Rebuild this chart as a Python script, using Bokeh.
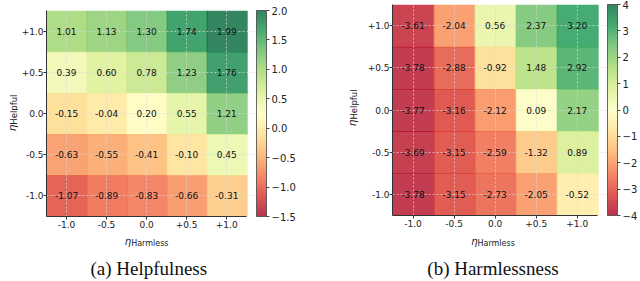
import numpy as np
from bokeh.plotting import figure
from bokeh.models import ColumnDataSource, LinearColorMapper, ColorBar, FixedTicker, Label, Range1d
from bokeh.layouts import row, column
from bokeh.embed import file_html
from bokeh.resources import INLINE
from bokeh.core.properties import value
from bokeh.palettes import RdYlGn11

# ---------------- data ----------------
eta_harmless = [-1.0, -0.5, 0.0, 0.5, 1.0]          # columns (x)
eta_helpful = [1.0, 0.5, 0.0, -0.5, -1.0]           # rows (y), top to bottom
tick_values = [-1.0, -0.5, 0.0, 0.5, 1.0]
tick_text = ["-1.0", "-0.5", "0.0", "+0.5", "+1.0"]

helpfulness = [
    [1.01, 1.13, 1.30, 1.74, 1.99],
    [0.39, 0.60, 0.78, 1.23, 1.76],
    [-0.15, -0.04, 0.20, 0.55, 1.21],
    [-0.63, -0.55, -0.41, -0.10, 0.45],
    [-1.07, -0.89, -0.83, -0.66, -0.31],
]
harmlessness = [
    [-3.61, -2.04, 0.56, 2.37, 3.20],
    [-3.78, -2.88, -0.92, 1.48, 2.92],
    [-3.77, -3.16, -2.12, 0.09, 2.17],
    [-3.69, -3.15, -2.59, -1.32, 0.89],
    [-3.78, -3.15, -2.73, -2.05, -0.52],
]
help_range = (-1.5, 2.0)
help_cticks = [-1.5, -1.0, -0.5, 0.0, 0.5, 1.0, 1.5, 2.0]
help_clabels = ["\u22121.5", "\u22121.0", "\u22120.5", "0.0", "0.5", "1.0", "1.5", "2.0"]
harm_range = (-4.0, 4.0)
harm_cticks = [-4, -3, -2, -1, 0, 1, 2, 3, 4]
harm_clabels = ["\u22124", "\u22123", "\u22122", "\u22121", "0", "1", "2", "3", "4"]
captions = ["(a) Helpfulness", "(b) Harmlessness"]

# ---------------- palette (RdYlGn, low = red) ----------------
base = list(reversed(RdYlGn11))
rgb = np.array([[int(c[i:i + 2], 16) for i in (1, 3, 5)] for c in base], dtype=float)
pos = np.linspace(0, 1, len(base))
t = np.linspace(0, 1, 256)
interp = np.stack([np.interp(t, pos, rgb[:, k]) for k in range(3)], axis=1)
palette = ["#%02x%02x%02x" % tuple(int(round(v)) for v in c) for c in interp]

FONT = "DejaVu Sans"
TXT = "#222222"


def blank(w, h):
    f = figure(width=w, height=h, output_backend="svg", toolbar_location=None,
               x_range=Range1d(0, w), y_range=Range1d(0, h),
               x_axis_type=None, y_axis_type=None, min_border=0)
    f.outline_line_color = None
    f.grid.visible = False
    return f


def heat(values, vrange, cticks, clabels, frame_w, frame_h, gap, bl, br, bt, bb):
    xs, ys, vals, labels = [], [], [], []
    for r, yv in enumerate(eta_helpful):
        for c, xv in enumerate(eta_harmless):
            xs.append(xv)
            ys.append(yv)
            vals.append(values[r][c])
            labels.append("%.2f" % values[r][c])
    src = ColumnDataSource(dict(x=xs, y=ys, v=vals, lab=labels))
    mapper = LinearColorMapper(palette=palette, low=vrange[0], high=vrange[1])

    ext = gap * 2.5 / frame_w
    width = bl + frame_w + gap + br
    height = bt + frame_h + bb
    p = figure(width=width, height=height, output_backend="svg", toolbar_location=None,
               x_range=Range1d(-1.25, 1.25 + ext), y_range=Range1d(-1.25, 1.25),
               min_border_left=bl, min_border_right=br, min_border_top=bt, min_border_bottom=bb)
    p.outline_line_color = None

    p.rect(x="x", y="y", width=0.5, height=0.5, source=src, dilate=True,
           fill_color={"field": "v", "transform": mapper}, fill_alpha=0.8,
           line_color=None, level="image")
    p.text(x="x", y="y", text="lab", source=src, text_align="center", text_baseline="middle",
           text_font=value(FONT), text_font_size="9px", text_color="#111111")

    for ax in (p.xaxis, p.yaxis):
        ax.ticker = FixedTicker(ticks=tick_values)
        ax.major_label_overrides = {v: s for v, s in zip(tick_values, tick_text)}
        ax.major_label_text_font = FONT
        ax.major_label_text_font_size = "9px"
        ax.major_label_text_color = TXT
        ax.major_tick_in = 0
        ax.major_tick_out = 3
        ax.minor_tick_line_color = None
        ax.axis_line_color = "#333333"
        ax.major_tick_line_color = "#333333"
        ax.major_label_standoff = 1
    p.yaxis.major_label_standoff = 0
    p.xaxis.bounds = (-1.25, 1.25)
    p.yaxis.major_label_orientation = "horizontal"

    for g in (p.xgrid, p.ygrid):
        g.ticker = FixedTicker(ticks=tick_values)
        g.grid_line_color = "#d8d8d8"
        g.grid_line_dash = "2 2"
        g.grid_line_width = 0.8
        g.grid_line_alpha = 0.9
    p.ygrid.bounds = (-1.25, 1.25)

    cb = ColorBar(color_mapper=mapper, ticker=FixedTicker(ticks=cticks),
                  major_label_overrides={v: s for v, s in zip(cticks, clabels)},
                  width=10, height=frame_h, padding=0, margin=0, location="top_left",
                  scale_alpha=0.8,
                  bar_line_color="#444444", major_tick_in=0, major_tick_out=3,
                  major_tick_line_color="#444444", label_standoff=2,
                  major_label_text_font=FONT, major_label_text_font_size="10px",
                  major_label_text_color=TXT, background_fill_alpha=0,
                  border_line_color=None)
    p.add_layout(cb, "right")
    return p


def ylabel_fig(w, h, bx, ay):
    f = blank(w, h)
    f.add_layout(Label(x=bx, y=ay, text="\u03b7", angle=np.pi / 2, text_font=FONT,
                       text_font_style="italic", text_font_size="10.5px", text_align="right",
                       text_baseline="alphabetic", text_color=TXT))
    f.add_layout(Label(x=bx + 2.5, y=ay, text="Helpful", angle=np.pi / 2, text_font=FONT,
                       text_font_size="8.5px", text_align="left",
                       text_baseline="alphabetic", text_color=TXT))
    return f


def bottom_fig(w, h, ex, cx, caption):
    f = blank(w, h)
    f.add_layout(Label(x=ex, y=40.5, text="\u03b7", text_font=FONT, text_font_style="italic",
                       text_font_size="10px", text_align="right", text_baseline="alphabetic",
                       text_color=TXT))
    f.add_layout(Label(x=ex, y=38.5, text="Harmless", text_font=FONT, text_font_size="8px",
                       text_align="left", text_baseline="alphabetic", text_color=TXT))
    f.add_layout(Label(x=cx, y=13, text=caption, text_font="Liberation Serif",
                       text_font_size="19px", text_align="center", text_baseline="alphabetic",
                       text_color="#111111"))
    return f


h1 = heat(helpfulness, help_range, help_cticks, help_clabels,
          frame_w=205, frame_h=206, gap=10, bl=25, br=40, bt=10, bb=15)
h2 = heat(harmlessness, harm_range, harm_cticks, harm_clabels,
          frame_w=211, frame_h=211, gap=10, bl=25, br=30, bt=4, bb=16)

y1 = ylabel_fig(18, 231, 11, 103)
y2 = ylabel_fig(66, 231, 53, 105)
b1 = bottom_fig(18 + h1.width, 50, 130.7, 148.3, captions[0])
b2 = bottom_fig(66 + h2.width, 50, 179, 194.5, captions[1])

layout = row(column(row(y1, h1), b1), column(row(y2, h2), b2))
open("out.html", "w").write(file_html(layout, INLINE))
